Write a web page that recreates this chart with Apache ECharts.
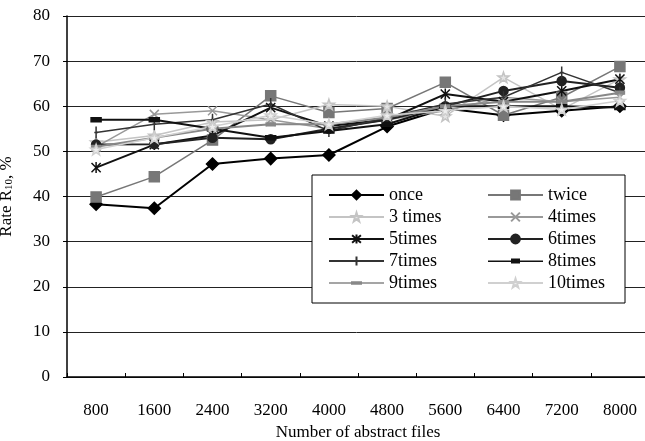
<!DOCTYPE html>
<html>
<head>
<meta charset="utf-8">
<script src="https://cdn.jsdelivr.net/npm/echarts@6/dist/echarts.min.js"></script>
<style>
  html, body { margin: 0; padding: 0; background: #fff; }
  #main { width: 645px; height: 441px; }
</style>
</head>
<body>
<div id="main"></div>
<script>
// 数据
var files = ['800', '1600', '2400', '3200', '4000', '4800', '5600', '6400', '7200', '8000'];
var yTicks = [0, 10, 20, 30, 40, 50, 60, 70, 80];

var once     = [38.3, 37.4, 47.2, 48.4, 49.2, 55.5, 59.5, 58.0, 59.0, 60.0];
var twice    = [39.9, 44.4, 52.5, 62.3, 58.6, 59.5, 65.3, 58.0, 62.0, 68.8];
var times3   = [52.0, 53.5, 56.5, 57.0, 60.4, 60.0, 57.8, 66.4, 59.3, 66.0];
var times4   = [51.0, 58.2, 59.0, 57.0, 55.0, 57.0, 59.0, 62.0, 61.0, 62.0];
var times5   = [46.4, 51.5, 53.5, 59.7, 55.6, 57.0, 62.7, 61.0, 63.4, 66.0];
var times6   = [51.5, 51.6, 53.0, 52.7, 55.0, 57.0, 60.0, 63.4, 65.6, 64.1];
var times7   = [54.2, 56.0, 57.0, 60.5, 54.5, 57.5, 60.5, 62.0, 67.5, 63.0];
var times8   = [57.0, 57.0, 55.0, 53.0, 54.5, 56.0, 60.0, 60.0, 60.0, 59.7];
var times9   = [51.0, 53.0, 55.0, 56.0, 56.0, 57.5, 60.0, 61.0, 61.0, 63.0];
var times10  = [50.4, 53.0, 55.5, 58.0, 56.0, 58.0, 59.0, 60.0, 59.3, 61.2];

var names = ['once', 'twice', '3 times', '4times', '5times', '6times', '7times', '8times', '9times', '10times'];

var myChart = echarts.init(document.getElementById('main'));

var FONT = 'Liberation Serif';
var STAR = 'path://M5,0L6.2,3.6L10,3.6L7,5.9L8.1,9.5L5,7.3L1.9,9.5L3,5.9L0,3.6L3.8,3.6Z';
var CROSS = 'path://M0,0L10,10M10,0L0,10';
var ASTER = 'path://M0,0L10,10M10,0L0,10M5,-1L5,11';
var PLUS = 'path://M5,0L5,10M3.5,5L6.5,5';
var DASH = 'path://M0,0L10,0L10,4L0,4Z';
var THIN = 'path://M0,0L10,0L10,3L0,3Z';
// 图例里的 8times / 9times 图标：细线 + 中间小块
var DASH_ICON = 'path://M0,5L23,5L23,3L32,3L32,5L55,5L55,6.5L32,6.5L32,8L23,8L23,6.5L0,6.5Z';
var THIN_ICON = 'path://M0,5L22,5L22,4L33,4L33,5L55,5L55,6.5L33,6.5L33,7.5L22,7.5L22,6.5L0,6.5Z';

function line(name, data, color, width, symbol, size, fill) {
    return {
        name: name,
        type: 'line',
        data: data,
        symbol: symbol,
        symbolSize: size,
        symbolKeepAspect: true,
        showSymbol: true,
        lineStyle: { color: color, width: width },
        itemStyle: {
            color: fill || color,
            borderColor: color,
            borderWidth: 1.5
        },
        z: 3
    };
}

var series = [
    line(names[0], once,   '#000', 2,   'diamond', 12),
    line(names[1], twice,  '#777', 1.5, 'rect', 10),
    line(names[2], times3, '#c4c4c4', 1.5, STAR, 11, '#e4e4e4'),
    line(names[3], times4, '#999', 1.5, CROSS, 9, 'none'),
    line(names[4], times5, '#111', 2,   ASTER, 11, 'none'),
    line(names[5], times6, '#222', 2,   'circle', 9),
    line(names[6], times7, '#333', 1.5, PLUS, 12, 'none'),
    line(names[7], times8, '#111', 2,   DASH, 10),
    line(names[8], times9, '#888', 2,   THIN, 9),
    line(names[9], times10, '#d0d0d0', 1.5, STAR, 11, '#eee')
];

var legendText = { fontFamily: FONT, fontSize: 18, color: '#000' };

var option = {
    backgroundColor: '#fff',
    animation: false,
    grid: { left: 67, top: 16, width: 582, height: 361, containLabel: false, outerBoundsMode: 'none' },
    xAxis: {
        type: 'category',
        data: files,
        boundaryGap: true,
        name: 'Number of abstract files',
        nameLocation: 'middle',
        nameGap: 46,
        nameTextStyle: { fontFamily: FONT, fontSize: 17, color: '#000' },
        axisLine: { lineStyle: { color: '#000', width: 1.5 } },
        axisTick: { show: true, inside: true, length: 4, lineStyle: { color: '#000' } },
        axisLabel: { fontFamily: FONT, fontSize: 17, color: '#000', margin: 25 }
    },
    yAxis: {
        type: 'value',
        min: yTicks[0],
        max: yTicks[yTicks.length - 1],
        interval: 10,
        name: 'Rate R{sub|10}, %',
        nameLocation: 'middle',
        nameGap: 52,
        nameRotate: 90,
        nameTextStyle: {
            fontFamily: FONT, fontSize: 17, color: '#000',
            rich: { sub: { fontFamily: FONT, fontSize: 11, color: '#000', verticalAlign: 'bottom', padding: [6, 0, 0, 0] } }
        },
        axisLine: { show: true, lineStyle: { color: '#000', width: 1.5 } },
        axisTick: { show: true, length: 4, lineStyle: { color: '#000' } },
        axisLabel: { fontFamily: FONT, fontSize: 17, color: '#000', margin: 17 },
        splitLine: { show: true, lineStyle: { color: '#222', width: 1 } }
    },
    legend: [
        {
            orient: 'vertical',
            left: 323, top: 181,
            itemWidth: 55, itemHeight: 11, itemGap: 4,
            textStyle: legendText,
            z: 10,
            data: [names[0], names[2], names[4], names[6],
                   { name: names[8], icon: THIN_ICON, itemStyle: { borderWidth: 0 } }]
        },
        {
            orient: 'vertical',
            left: 482, top: 181,
            itemWidth: 55, itemHeight: 11, itemGap: 4,
            textStyle: legendText,
            z: 10,
            data: [names[1], names[3], names[5],
                   { name: names[7], icon: DASH_ICON, itemStyle: { borderWidth: 0 } }, names[9]]
        }
    ],
    graphic: [{
        type: 'rect',
        shape: { x: 312, y: 175, width: 313, height: 128 },
        style: { fill: '#fff', stroke: '#000', lineWidth: 1 },
        z: 5
    }],
    series: series
};
myChart.setOption(option);
</script>
</body>
</html>
